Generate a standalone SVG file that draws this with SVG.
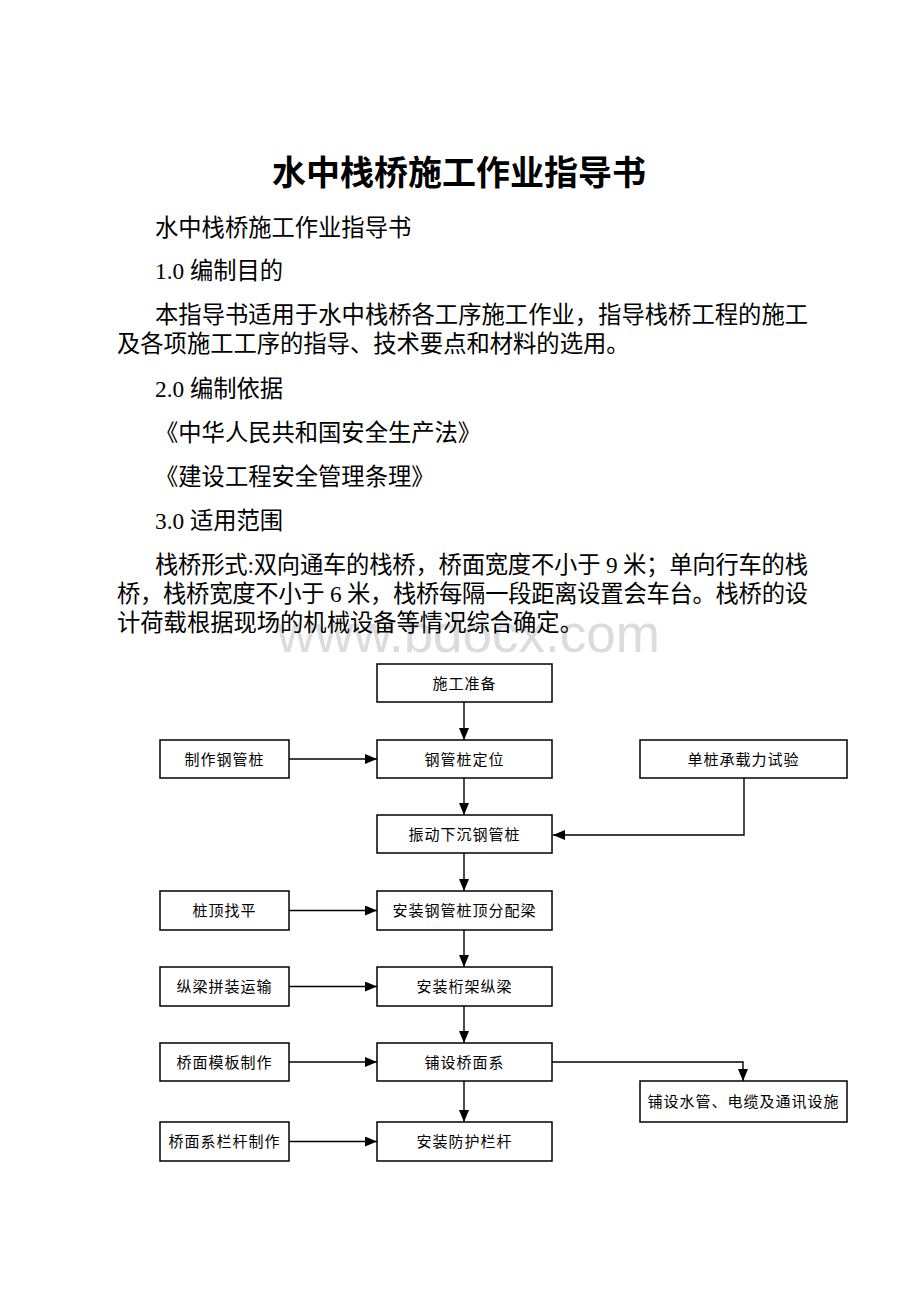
<svg xmlns="http://www.w3.org/2000/svg" width="920" height="1302" viewBox="0 0 920 1302">
<style>
.title{font-family:"Noto Sans CJK SC","Liberation Sans",sans-serif;font-size:34px;font-weight:bold;fill:#000}
.body{font-family:"Liberation Serif","Noto Sans CJK SC",serif;font-size:23.3px;fill:#000}
.wm{font-family:"Liberation Sans",Arial,sans-serif;font-size:53px;fill:#dcdcdc}
.box{fill:#fff;stroke:#000;stroke-width:1.5}
.lbl{font-family:"Liberation Serif","Noto Sans CJK SC",serif;font-size:15px;letter-spacing:1px;fill:#000;text-anchor:middle}
.con{fill:none;stroke:#000;stroke-width:1.4}
</style>
<defs>
<marker id="ah" viewBox="0 0 12 10" markerWidth="12" markerHeight="10" refX="12" refY="5" orient="auto" markerUnits="userSpaceOnUse">
<path d="M0,0 L12,5 L0,10 z" fill="#000"/>
</marker>
</defs>
<rect width="920" height="1302" fill="#fff"/>
<text class="wm" x="277" y="652">www.bdocx.com</text>
<g id="document-text">
<text class="title" x="459" y="185" text-anchor="middle">水中栈桥施工作业指导书</text>
<text class="body" x="155" y="236">水中栈桥施工作业指导书</text>
<text class="body" x="155" y="279">1.0 编制目的</text>
<text class="body" x="155" y="323" textLength="653" lengthAdjust="spacing">本指导书适用于水中栈桥各工序施工作业，指导栈桥工程的施工</text>
<text class="body" x="117" y="352">及各项施工工序的指导、技术要点和材料的选用。</text>
<text class="body" x="155" y="397">2.0 编制依据</text>
<text class="body" x="155" y="441">《中华人民共和国安全生产法》</text>
<text class="body" x="155" y="485">《建设工程安全管理条理》</text>
<text class="body" x="155" y="529">3.0 适用范围</text>
<text class="body" x="155" y="573" textLength="653" lengthAdjust="spacing">栈桥形式:双向通车的栈桥，桥面宽度不小于 9 米；单向行车的栈</text>
<text class="body" x="117" y="602" textLength="691" lengthAdjust="spacing">桥，栈桥宽度不小于 6 米，栈桥每隔一段距离设置会车台。栈桥的设</text>
<text class="body" x="117" y="631">计荷载根据现场的机械设备等情况综合确定。</text>
</g>
<g id="connectors">
<line class="con" x1="464" y1="702" x2="464" y2="740" marker-end="url(#ah)"/>
<line class="con" x1="464" y1="778" x2="464" y2="815" marker-end="url(#ah)"/>
<line class="con" x1="464" y1="853" x2="464" y2="891" marker-end="url(#ah)"/>
<line class="con" x1="464" y1="930" x2="464" y2="967" marker-end="url(#ah)"/>
<line class="con" x1="464" y1="1006" x2="464" y2="1043" marker-end="url(#ah)"/>
<line class="con" x1="464" y1="1081" x2="464" y2="1122" marker-end="url(#ah)"/>
<line class="con" x1="289" y1="759" x2="377" y2="759" marker-end="url(#ah)"/>
<line class="con" x1="289" y1="910.5" x2="377" y2="910.5" marker-end="url(#ah)"/>
<line class="con" x1="289" y1="986.5" x2="377" y2="986.5" marker-end="url(#ah)"/>
<line class="con" x1="289" y1="1062" x2="377" y2="1062" marker-end="url(#ah)"/>
<line class="con" x1="289" y1="1141.5" x2="377" y2="1141.5" marker-end="url(#ah)"/>
<polyline class="con" points="744,778 744,835 553,835" marker-end="url(#ah)"/>
<polyline class="con" points="552,1062 743,1062 743,1081" marker-end="url(#ah)"/>
</g>
<g id="n-prep"><rect class="box" x="377" y="664" width="175" height="38"/><text class="lbl" x="464.5" y="688.5">施工准备</text></g>
<g id="n-locate"><rect class="box" x="377" y="740" width="175" height="38"/><text class="lbl" x="464.5" y="764.5">钢管桩定位</text></g>
<g id="n-sink"><rect class="box" x="377" y="815" width="175" height="38"/><text class="lbl" x="464.5" y="839.5">振动下沉钢管桩</text></g>
<g id="n-capbeam"><rect class="box" x="377" y="891" width="175" height="39"/><text class="lbl" x="464.5" y="916">安装钢管桩顶分配梁</text></g>
<g id="n-truss"><rect class="box" x="377" y="967" width="175" height="39"/><text class="lbl" x="464.5" y="992">安装桁架纵梁</text></g>
<g id="n-deck"><rect class="box" x="377" y="1043" width="175" height="38"/><text class="lbl" x="464.5" y="1067.5">铺设桥面系</text></g>
<g id="n-rail"><rect class="box" x="377" y="1122" width="175" height="39"/><text class="lbl" x="464.5" y="1147">安装防护栏杆</text></g>
<g id="n-makepile"><rect class="box" x="160" y="740" width="129" height="38"/><text class="lbl" x="224.5" y="764.5">制作钢管桩</text></g>
<g id="n-level"><rect class="box" x="160" y="891" width="129" height="39"/><text class="lbl" x="224.5" y="916">桩顶找平</text></g>
<g id="n-girder"><rect class="box" x="160" y="967" width="129" height="39"/><text class="lbl" x="224.5" y="992">纵梁拼装运输</text></g>
<g id="n-form"><rect class="box" x="160" y="1043" width="129" height="38"/><text class="lbl" x="224.5" y="1067.5">桥面模板制作</text></g>
<g id="n-railmake"><rect class="box" x="160" y="1122" width="129" height="39"/><text class="lbl" x="224.5" y="1147">桥面系栏杆制作</text></g>
<g id="n-loadtest"><rect class="box" x="640" y="740" width="207" height="38"/><text class="lbl" x="743.5" y="764.5">单桩承载力试验</text></g>
<g id="n-utility"><rect class="box" x="640" y="1081" width="207" height="41"/><text class="lbl" x="743.5" y="1107">铺设水管、电缆及通讯设施</text></g>
</svg>
